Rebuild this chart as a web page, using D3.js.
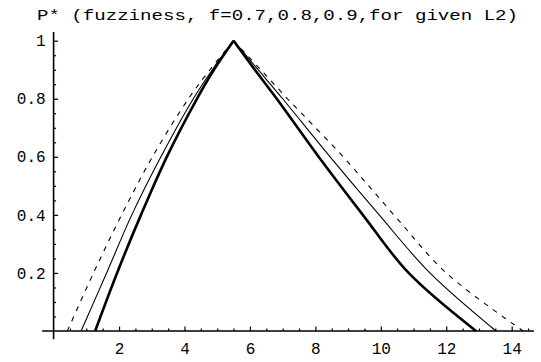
<!DOCTYPE html>
<html>
<head>
<meta charset="utf-8">
<script src="https://cdn.jsdelivr.net/npm/d3@7"></script>
<style>
  body { margin: 0; background: #fff; }
  text { font-family: "Liberation Mono", "DejaVu Sans Mono", monospace; fill: #000; }
</style>
</head>
<body>
<script>
// chart text
var title = "P* (fuzziness, f=0.7,0.8,0.9,for given L2)";
var xMajor = [2, 4, 6, 8, 10, 12, 14];
var yMajor = [0.2, 0.4, 0.6, 0.8, 1];

// P* levels the curves were read at, left side up to the peak then right side down
var levels = [0, 0.2, 0.4, 0.6, 0.8, 0.9, 1, 0.9, 0.8, 0.6, 0.4, 0.2, 0];

// x position of each curve at those levels
var thickX = [1.27, 1.94, 2.67, 3.46, 4.38, 4.9, 5.5, 6.15, 6.82, 8.1, 9.45, 10.85, 12.91];
var thinX  = [0.84, 1.62, 2.39, 3.28, 4.27, 4.85, 5.5, 6.25, 7.0, 8.45, 9.95, 11.5, 13.52];
var dashX  = [0.42, 1.22, 2.08, 3.02, 4.12, 4.78, 5.5, 6.33, 7.15, 8.85, 10.4, 12.0, 14.35];

var width = 541, height = 362;

var x = d3.scaleLinear().domain([0, 14]).range([53.6, 511.7]);
var y = d3.scaleLinear().domain([0, 1]).range([331, 40.7]);

var svg = d3.select("body").append("svg")
    .attr("width", width)
    .attr("height", height);

// title
svg.append("text")
    .attr("x", 37)
    .attr("y", 20)
    .attr("font-size", 15)
    .attr("textLength", 481)
    .attr("lengthAdjust", "spacingAndGlyphs")
    .text(title);

// axis lines, slightly past the origin like the original
svg.append("line")
    .attr("x1", x(-0.35)).attr("x2", x(14.68))
    .attr("y1", y(0)).attr("y2", y(0))
    .attr("stroke", "#000").attr("stroke-width", 1.6);
svg.append("line")
    .attr("x1", x(0)).attr("x2", x(0))
    .attr("y1", y(-0.028)).attr("y2", y(1.03))
    .attr("stroke", "#000").attr("stroke-width", 1.6);

function styleAxis(g) {
  g.select(".domain").remove();
  g.selectAll(".tick line").attr("stroke", "#000").attr("stroke-width", 1.2);
  g.selectAll("text").attr("font-size", 16).style("font-family", null);
}

// x minor + major ticks (pointing up)
svg.append("g")
    .attr("transform", "translate(0," + y(0) + ")")
    .call(d3.axisBottom(x).tickValues(d3.range(1, 30).map(function(i) { return i * 0.5; }).filter(function(v) { return v % 2 != 0; }))
      .tickSize(-2.5).tickFormat(""))
    .call(styleAxis);
svg.append("g")
    .attr("transform", "translate(0," + y(0) + ")")
    .call(d3.axisBottom(x).tickValues(xMajor).tickSize(-4.5).tickPadding(11.5)
      .tickFormat(function(d) { return String(d); }))
    .call(styleAxis);

// y minor + major ticks (pointing right)
svg.append("g")
    .attr("transform", "translate(" + x(0) + ",0)")
    .call(d3.axisLeft(y).tickValues(d3.range(1, 20).map(function(i) { return i * 0.05; }).filter(function(v) { return Math.round(v * 100) % 20 != 0; }))
      .tickSize(-2.5).tickFormat(""))
    .call(styleAxis);
svg.append("g")
    .attr("transform", "translate(" + x(0) + ",0)")
    .call(d3.axisLeft(y).tickValues(yMajor).tickSize(-4.5).tickPadding(8)
      .tickFormat(function(d) { return String(+d.toFixed(1)); }))
    .call(styleAxis);

var line = d3.line()
    .x(function(d) { return x(d[0]); })
    .y(function(d) { return y(d[1]); })
    .curve(d3.curveCatmullRom);

// each side drawn smooth on its own so the peak stays sharp
function sides(xs) {
  var p = xs.map(function(v, i) { return [v, levels[i]]; });
  var peak = levels.indexOf(1);
  return line(p.slice(0, peak + 1)) + line(p.slice(peak));
}

svg.append("path")
    .attr("d", sides(dashX))
    .attr("fill", "none").attr("stroke", "#000")
    .attr("stroke-width", 1.1).attr("stroke-dasharray", "5,6");

svg.append("path")
    .attr("d", sides(thinX))
    .attr("fill", "none").attr("stroke", "#000")
    .attr("stroke-width", 1.1);

svg.append("path")
    .attr("d", sides(thickX))
    .attr("fill", "none").attr("stroke", "#000")
    .attr("stroke-width", 2.6).attr("stroke-linejoin", "round");
</script>
</body>
</html>
